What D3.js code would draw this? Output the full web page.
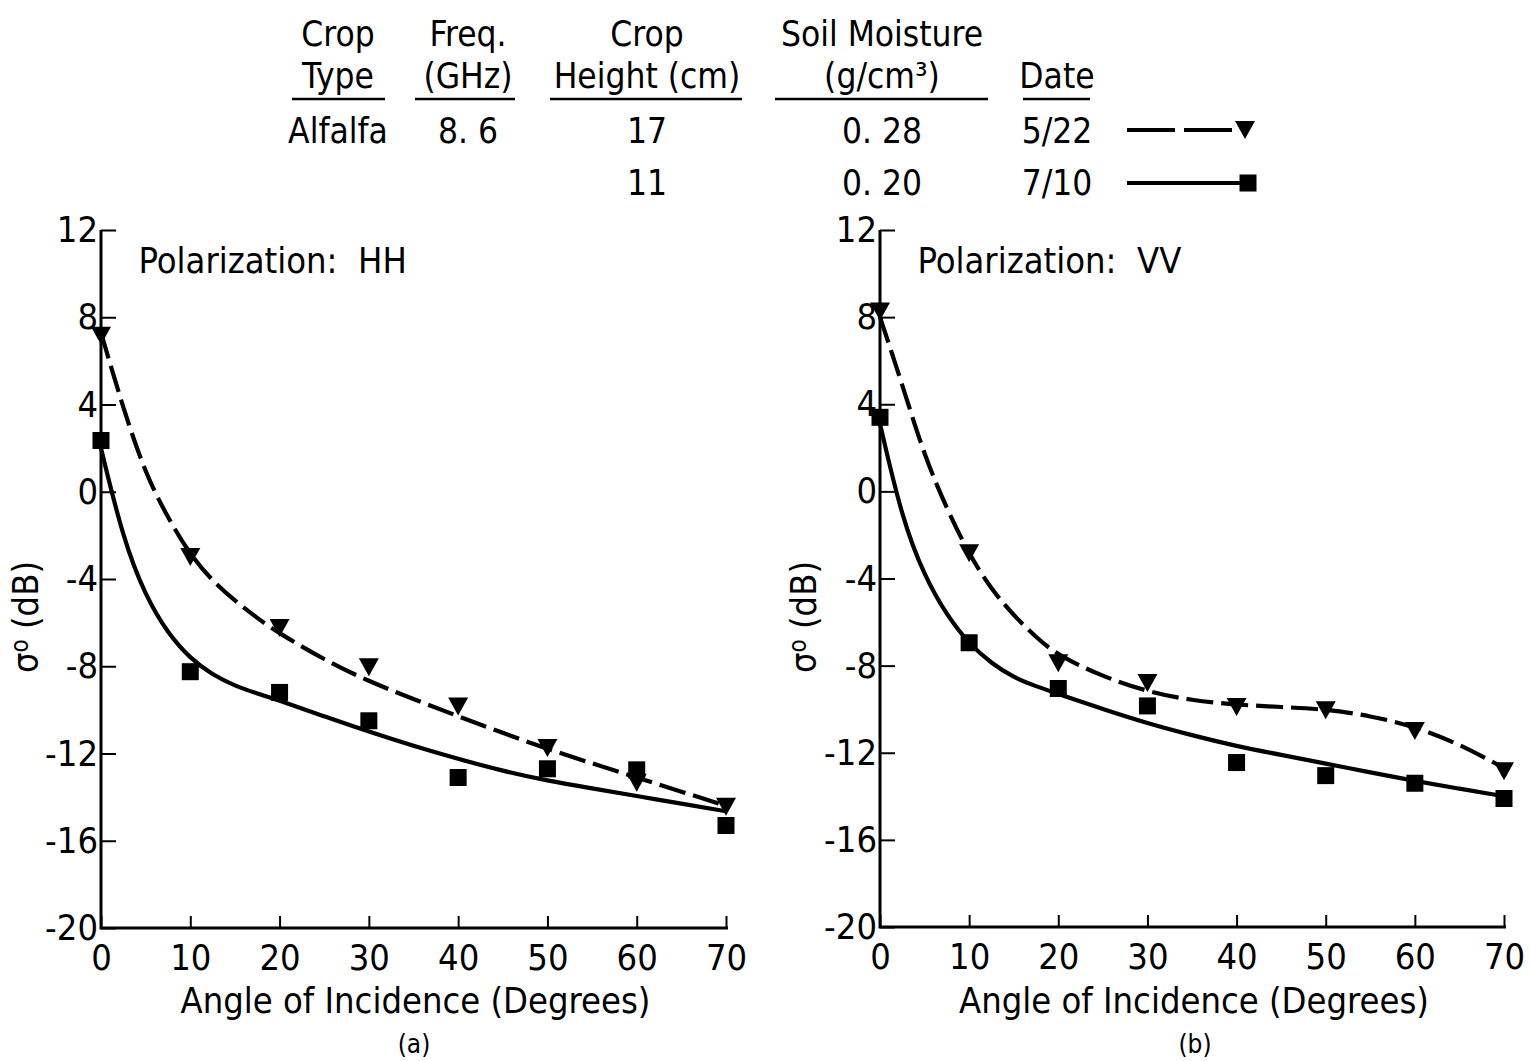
<!DOCTYPE html>
<html>
<head>
<meta charset="utf-8">
<title>Alfalfa backscatter vs angle of incidence</title>
<script src="https://cdnjs.cloudflare.com/ajax/libs/d3/7.8.5/d3.min.js"></script>
<style>
  body { margin: 0; background: #fff; }
  svg text { font-family: "Liberation Sans Narrow", "DejaVu Sans Condensed", "Liberation Sans", sans-serif; fill: #000; }
</style>
</head>
<body>
<svg id="chart" width="1530" height="1061"></svg>
<script>
// measured points (angle in degrees, sigma0 in dB)
var angles = [0, 10, 20, 30, 40, 50, 60, 70];
var hhMay = [7.2, -2.95, -6.2, -8.0, -9.8, -11.7, -13.3, -14.4];
var hhJul = [2.35, -8.25, -9.2, -10.5, -13.1, -12.7, -12.75, -15.3];
var vvMay = [8.3, -2.8, -7.85, -8.75, -9.85, -10.0, -10.95, -12.8];
var vvJul = [3.4, -6.95, -9.05, -9.85, -12.45, -13.05, -13.4, -14.1];

// hand-drawn fit curves
var fitAngles = [0, 2.5, 5, 7.5, 10, 12.5, 15, 17.5, 20, 25, 30, 35, 40, 45, 50, 55, 60, 65, 70];
var hhMayFit = [7.3, 3.8, 0.8, -1.2, -2.9, -4.1, -5.0, -5.8, -6.5, -7.7, -8.7, -9.5, -10.3, -11.05, -11.8, -12.45, -13.1, -13.75, -14.4];
var hhJulFit = [2.0, -2.2, -4.8, -6.5, -7.65, -8.4, -8.9, -9.25, -9.57, -10.3, -11.0, -11.65, -12.25, -12.8, -13.25, -13.6, -13.95, -14.3, -14.65];
var vvMayFit = [8.0, 4.9, 1.6, -0.8, -2.9, -4.5, -5.7, -6.7, -7.55, -8.5, -9.2, -9.6, -9.8, -9.9, -10.0, -10.3, -10.8, -11.6, -12.7];
var vvJulFit = [3.1, -1.3, -3.9, -5.7, -7.0, -7.9, -8.55, -8.95, -9.3, -10.0, -10.65, -11.2, -11.7, -12.1, -12.5, -12.9, -13.3, -13.65, -14.0];

var xTicks = [0, 10, 20, 30, 40, 50, 60, 70];
var yTicks = [-20, -16, -12, -8, -4, 0, 4, 8, 12];

// header table
var headTop = ["Crop", "Freq.", "Crop", "Soil Moisture", ""];
var headBottom = ["Type", "(GHz)", "Height (cm)", "(g/cm\u00B3)", "Date"];
var tableRows = [
  ["Alfalfa", "8. 6", "17", "0. 28", "5/22"],
  ["", "", "11", "0. 20", "7/10"]
];

var svg = d3.select("#chart");

// ---- table at the top ----
var colX = [338, 468, 647, 882, 1057];
var colRule = [[292, 385], [415, 515], [550, 742], [775, 988], [1023, 1090]];
var table = svg.append("g").attr("font-size", 35);

table.selectAll("text.h1").data(headTop).enter().append("text")
  .attr("x", function(d, i) { return colX[i]; }).attr("y", 46)
  .attr("text-anchor", "middle").text(function(d) { return d; });
table.selectAll("text.h2").data(headBottom).enter().append("text")
  .attr("x", function(d, i) { return colX[i]; }).attr("y", 88)
  .attr("text-anchor", "middle").text(function(d) { return d; });
table.selectAll("line.rule").data(colRule).enter().append("line")
  .attr("x1", function(d) { return d[0]; }).attr("x2", function(d) { return d[1]; })
  .attr("y1", 99).attr("y2", 99).attr("stroke", "#000").attr("stroke-width", 2.5);

tableRows.forEach(function(row, r) {
  table.selectAll("text.r" + r).data(row).enter().append("text")
    .attr("x", function(d, i) { return colX[i]; }).attr("y", 143 + r * 52)
    .attr("text-anchor", "middle").text(function(d) { return d; });
});

// symbols
function triangle(g, cx, cy) {
  g.append("path")
    .attr("d", "M" + (cx - 10) + "," + (cy - 8) + "L" + (cx + 10) + "," + (cy - 8) + "L" + cx + "," + (cy + 10) + "Z")
    .attr("fill", "#000");
}
function square(g, cx, cy) {
  g.append("rect").attr("x", cx - 8.5).attr("y", cy - 8.5)
    .attr("width", 17).attr("height", 17).attr("fill", "#000");
}

// legend samples
var leg = svg.append("g");
leg.append("line").attr("x1", 1127).attr("x2", 1240).attr("y1", 130).attr("y2", 130)
  .attr("stroke", "#000").attr("stroke-width", 4).attr("stroke-dasharray", "48,9");
triangle(leg, 1245, 129);
leg.append("line").attr("x1", 1127).attr("x2", 1248).attr("y1", 183).attr("y2", 183)
  .attr("stroke", "#000").attr("stroke-width", 4);
square(leg, 1248, 183);

// ---- panels ----
function panel(opts) {
  var x = d3.scaleLinear().domain([0, 70]).range([opts.x0, opts.x1]);
  var y = d3.scaleLinear().domain([-20, 12]).range([opts.yb, opts.yt]);
  var g = svg.append("g");

  var yAxis = g.append("g").attr("transform", "translate(" + opts.x0 + ",0)")
    .call(d3.axisLeft(y).tickValues(yTicks).tickSize(-15).tickPadding(3)
      .tickFormat(function(d) { return String(d); }));
  var xAxis = g.append("g").attr("transform", "translate(0," + opts.yb + ")")
    .call(d3.axisBottom(x).tickValues(xTicks).tickSize(-12).tickPadding(16));
  [yAxis, xAxis].forEach(function(a) {
    a.select(".domain").remove();
    a.selectAll(".tick line").attr("stroke-width", 2);
    a.selectAll("text").attr("font-size", 36).attr("font-family", null);
  });
  // axis frame: left + bottom only
  g.append("path")
    .attr("d", "M" + opts.x0 + "," + y(12) + "V" + opts.yb + "H" + (x(70) + 2))
    .attr("fill", "none").attr("stroke", "#000").attr("stroke-width", 3);

  g.append("text").attr("x", x(4.2)).attr("y", 273).attr("font-size", 36)
    .attr("xml:space", "preserve").style("white-space", "pre").text(opts.title);

  g.append("text").attr("transform", "translate(" + opts.ylx + ",617) rotate(-90)")
    .attr("text-anchor", "middle").attr("font-size", 36)
    .html("\u03C3<tspan dy='-10' font-size='24'>o</tspan><tspan dy='10'> (dB)</tspan>");

  g.append("text").attr("x", (opts.x0 + x(70)) / 2 + 2).attr("y", 1013)
    .attr("text-anchor", "middle").attr("font-size", 36).text("Angle of Incidence (Degrees)");
  g.append("text").attr("x", opts.labX).attr("y", 1053)
    .attr("text-anchor", "middle").attr("font-size", 26).text(opts.letter);

  var line = d3.line()
    .x(function(d) { return x(d[0]); })
    .y(function(d) { return y(d[1]); })
    .curve(d3.curveBasis);

  g.append("path").datum(d3.zip(fitAngles, opts.mayFit)).attr("d", line)
    .attr("fill", "none").attr("stroke", "#000").attr("stroke-width", 4.2)
    .attr("stroke-dasharray", "27,8");
  g.append("path").datum(d3.zip(fitAngles, opts.julFit)).attr("d", line)
    .attr("fill", "none").attr("stroke", "#000").attr("stroke-width", 4.2);

  angles.forEach(function(a, i) {
    triangle(g, x(a), y(opts.may[i]));
  });
  angles.forEach(function(a, i) {
    square(g, x(a), y(opts.jul[i]));
  });
}

panel({ x0: 101, x1: 726, yt: 230, yb: 928, title: "Polarization:  HH",
  may: hhMay, jul: hhJul, mayFit: hhMayFit, julFit: hhJulFit, ylx: 38, labX: 414, letter: "(a)" });
panel({ x0: 880, x1: 1504, yt: 230, yb: 927, title: "Polarization:  VV",
  may: vvMay, jul: vvJul, mayFit: vvMayFit, julFit: vvJulFit, ylx: 816, labX: 1195, letter: "(b)" });
</script>
</body>
</html>
